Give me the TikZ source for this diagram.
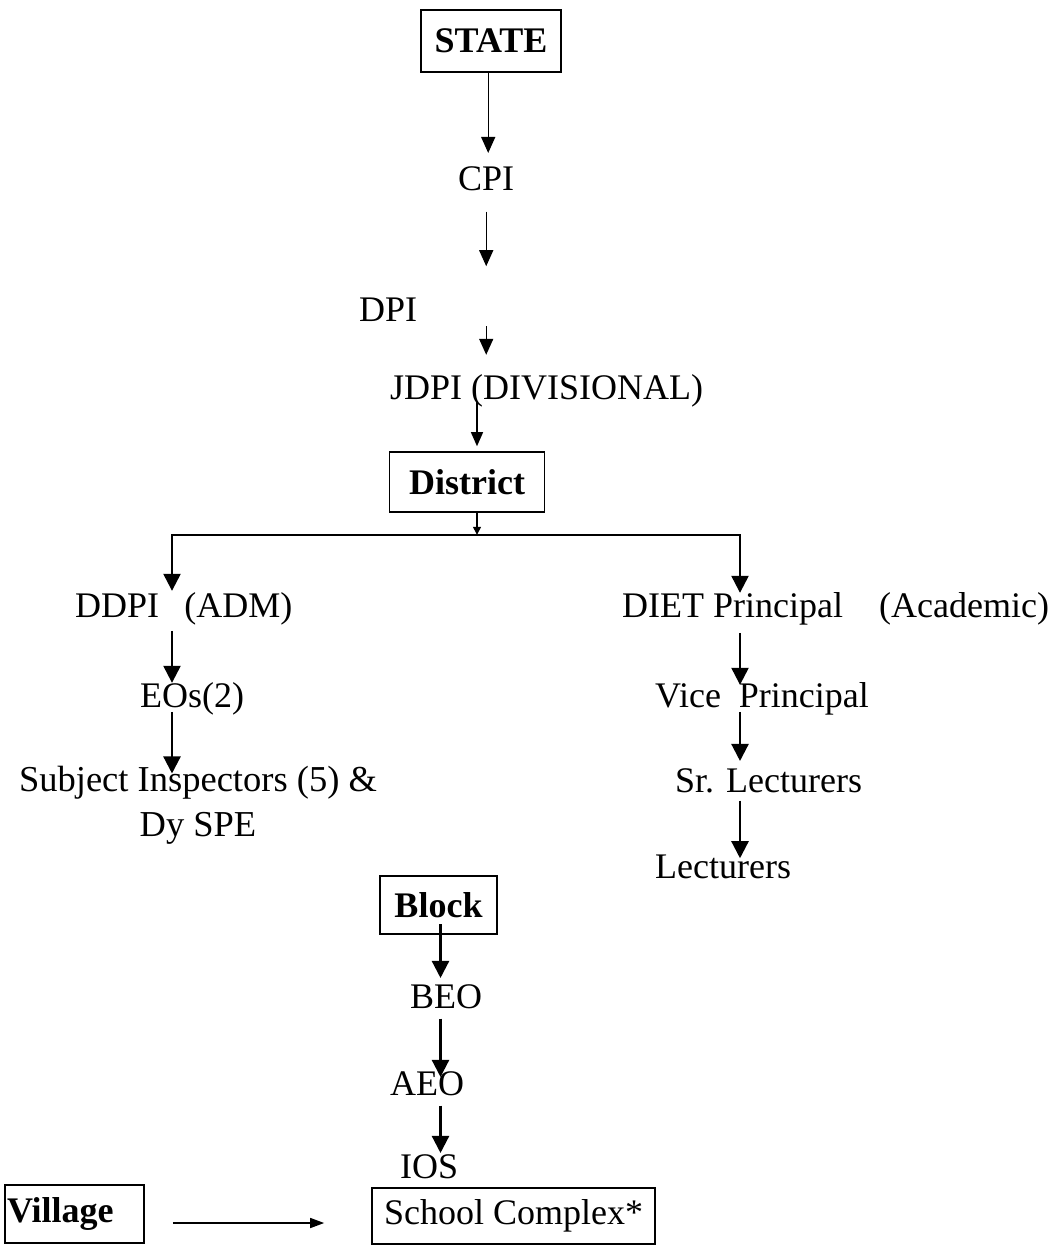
\documentclass[tikz,border=0pt]{standalone}
\usepackage{fontspec}
\setmainfont{Liberation Serif}
\usetikzlibrary{arrows.meta,calc}
\begin{document}
\begin{tikzpicture}[x=1pt,y=-1pt,
  lbl/.style={inner sep=0pt, font=\fontsize{36}{40}\selectfont, anchor=base west},
  bx/.style={draw, line width=1.6pt, inner sep=0pt, font=\fontsize{36}{40}\selectfont\bfseries},
  arrtop/.style={line width=1.4pt, -{Triangle[width=14pt,length=16pt]}},
  arrlow/.style={line width=2.3pt, -{Triangle[width=17pt,length=17pt]}},
  arrsmall/.style={line width=1.3pt, -{Triangle[width=8pt,length=8pt]}},
  arrside/.style={line width=1.5pt, -{Triangle[width=10pt,length=14pt]}}
]
\useasboundingbox[fill=white] (0,0) rectangle (1059,1246);

% boxes
\node[bx, minimum width=140pt, minimum height=62pt] (state) at (491,41) {STATE};
\node[bx, minimum width=155pt, minimum height=60pt] (district) at (467,482) {District};
\node[bx, minimum width=117pt, minimum height=58pt] (block) at (438.5,905) {Block};
\node[bx, font=\fontsize{36}{40}\selectfont, minimum width=283pt, minimum height=56pt] (school) at (513.5,1216) {School Complex*};
\node[bx, minimum height=58pt, text width=135pt, inner xsep=2pt, align=left] (village) at (74.5,1214) {Village};

% labels
\node[lbl] (cpi) at (458,191) {CPI};
\node[lbl] (dpi) at (359,321) {DPI};
\node[lbl] (jdpi) at (390,399) {JDPI (DIVISIONAL)};
\node[lbl] (ddpi) at (75,617) {DDPI\hspace{0.7em}(ADM)};
\node[lbl] (eos) at (140,707) {EOs(2)};
\node[lbl, anchor=base, align=center, font=\fontsize{36.5}{45}\selectfont] (subj) at (198,836) {Subject Inspectors (5) \&\\Dy SPE};
\node[lbl] (diet) at (622,617) {DIET Principal\hspace{1em}(Academic)};
\node[lbl] (vp) at (655,707) {Vice\hspace{0.5em}Principal};
\node[lbl] (srl) at (675,792) {Sr. Lecturers};
\node[lbl] (lect) at (655,878) {Lecturers};
\node[lbl] (beo) at (410,1008) {BEO};
\node[lbl] (aeo) at (390,1095) {AEO};
\node[lbl] (ios) at (400,1178) {IOS};

% state level connectors
\draw[arrtop] ($(state.south -| cpi.north)+(2,0)$) -- ($(cpi.north)+(2,-14)$);
\draw[arrtop] ($(cpi.south)+(0,20)$) -- ($(cpi.south |- dpi.north)+(0,-31)$);
\draw[arrtop] ($(dpi.south -| cpi.south)+(0,5)$) -- ($(cpi.south |- jdpi.north)+(0,-19)$);
\draw[line width=1.3pt, -{Triangle[width=12pt,length=14pt]}] ($(jdpi.south -| district.north)+(10,-6)$) -- ($(district.north)+(10,-5)$);

% district split
\coordinate (split) at ($(district.south)+(10,22)$);
\coordinate (ddtip) at ($(ddpi.north west)+(97,-1)$);
\coordinate (dietip) at ($(diet.north west)+(118,1)$);
\draw[arrsmall] ($(district.south)+(10,0)$) -- (split);
\draw[arrlow] (split) -| (ddtip);
\draw[arrlow] (split) -| (dietip);

% administrative branch
\draw[arrlow] ($(ddpi.south west)+(97,6)$) -- ($(ddpi.south west |- eos.north)+(97,1)$);
\draw[arrlow] ($(ddpi.south west |- eos.south)+(97,-3)$) -- ($(ddpi.south west |- subj.north)+(97,8)$);

% academic branch
\draw[arrlow] ($(diet.south west)+(118,8)$) -- ($(diet.south west |- vp.north)+(118,3)$);
\draw[arrlow] ($(diet.south west |- vp.south)+(118,-3)$) -- ($(diet.south west |- srl.north)+(118,-7)$);
\draw[arrlow] ($(diet.south west |- srl.south)+(118,8)$) -- ($(diet.south west |- lect.north)+(118,4)$);

% block branch
\draw[arrlow] ($(block.center)+(2,19)$) -- ($(block.center |- beo.north)+(2,-6)$);
\draw[arrlow] ($(block.center |- beo.south)+(2,10)$) -- ($(block.center |- aeo.north)+(2,6)$);
\draw[arrlow] ($(block.center |- aeo.south)+(2,10)$) -- ($(block.center |- ios.north)+(2,-1)$);

% village
\draw[arrside] ($(village.east)+(28,9)$) -- ($(village.east -| school.west)+(-47,9)$);
\end{tikzpicture}
\end{document}
